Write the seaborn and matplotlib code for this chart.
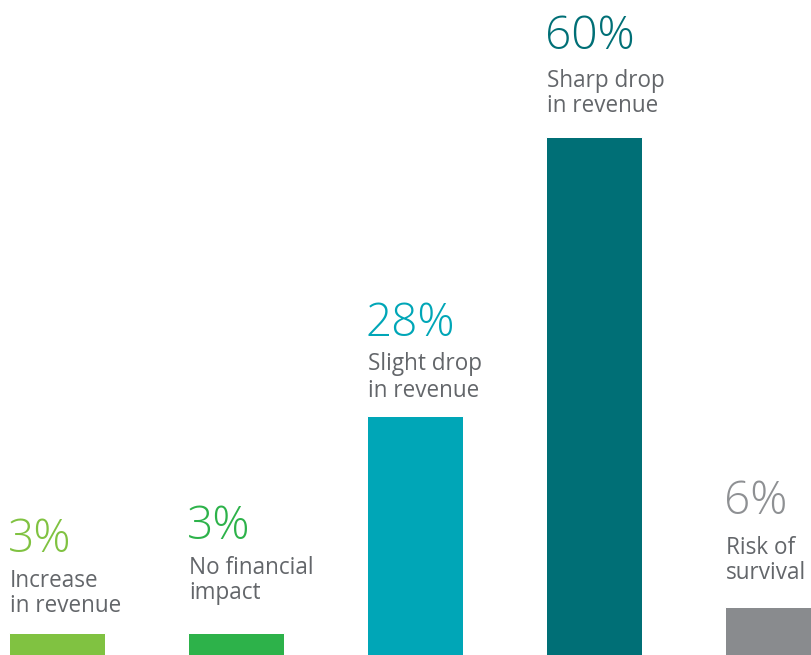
import matplotlib
matplotlib.use("Agg")
import matplotlib.pyplot as plt
from matplotlib import font_manager as fm
import seaborn as sns

# Survey outcome shares
categories = ["Increase in revenue", "No financial impact", "Slight drop in revenue",
              "Sharp drop in revenue", "Risk of survival"]
values = [3, 3, 28, 60, 6]
value_labels = ["3%", "3%", "28%", "60%", "6%"]
caption_lines = [("Increase", "in revenue"),
                 ("No financial", "impact"),
                 ("Slight drop", "in revenue"),
                 ("Sharp drop", "in revenue"),
                 ("Risk of", "survival")]

bar_colors = ["#80C241", "#2DB24A", "#00A6B7", "#006F76", "#898B8E"]
value_colors = ["#80C241", "#2DB24A", "#00A6B7", "#006F76", "#8E9093"]
caption_color = "#63666A"

# Baseline offsets (points above bar top) for value, caption line 1, caption line 2
text_offsets = [(81, 46, 21), (94, 59, 34), (80, 46, 19), (88, 50, 25), (93, 53, 28)]

sns.set_theme(style="white")
plt.rcParams["font.family"] = ["Open Sans", "DejaVu Sans"]

WEIGHT_NAMES = {"light": 300, "extra light": 200, "ultralight": 200, "thin": 100,
                "normal": 400, "regular": 400}


def light_face():
    """Pick a normal-width light face for the big percentages, if one is installed."""
    for family in ("Open Sans", "Lato", "Roboto", "Noto Sans", "Inter"):
        for entry in fm.fontManager.ttflist:
            w = entry.weight
            if isinstance(w, str):
                w = WEIGHT_NAMES.get(w.lower(), 400)
            fname = entry.fname.lower()
            if (entry.name == family and 250 <= w <= 300 and entry.style == "normal"
                    and entry.stretch == "normal" and "condensed" not in fname
                    and "narrow" not in fname):
                return fm.FontProperties(fname=entry.fname)
    return fm.FontProperties(family="Open Sans", weight="light")


DPI = 72
fig = plt.figure(figsize=(811 / DPI, 655 / DPI), dpi=DPI)
ax = fig.add_axes([0, 0, 1, 1])

bar_width = 0.535
sns.barplot(x=categories, y=values, hue=categories, palette=bar_colors,
            width=bar_width, saturation=1, legend=False, ax=ax, order=categories)

ax.set_xlim(-0.3186, 4.215)
ax.set_ylim(0.46, 75.8)
ax.axis("off")

value_font = light_face()
value_font.set_size(46)

for i, (val, lab, lines, offs) in enumerate(zip(values, value_labels, caption_lines, text_offsets)):
    left = i - bar_width / 2
    ax.annotate(lab, xy=(left, val), xytext=(-1, offs[0]), textcoords="offset points",
                ha="left", va="baseline", fontproperties=value_font,
                color=value_colors[i])
    for line, dy in zip(lines, offs[1:]):
        ax.annotate(line, xy=(left, val), xytext=(1, dy), textcoords="offset points",
                    ha="left", va="baseline", fontsize=22.5, color=caption_color)

fig.savefig("out.png", dpi=DPI, facecolor="white")
